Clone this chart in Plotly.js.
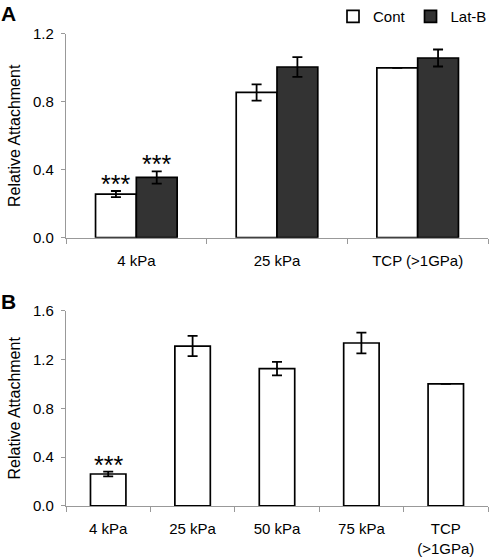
<!DOCTYPE html>
<html>
<head>
<meta charset="utf-8">
<script src="https://cdn.plot.ly/plotly-3.0.1.min.js"></script>
<style>html,body{margin:0;padding:0;background:#fff;}#chart{width:492px;height:560px;}</style>
</head>
<body>
<div id="chart"></div>
<script>
// Panel A data
const catsA = ["4 kPa", "25 kPa", "TCP (>1GPa)"];
const contA = [0.257, 0.855, 1.0];
const contErrA = [0.018, 0.048, null];
const latA = [0.355, 1.005, 1.058];
const latErrA = [0.036, 0.058, 0.05];
const sigContA = ["***", "", ""];
const sigLatA = ["***", "", ""];

// Panel B data
const catsB = ["4 kPa", "25 kPa", "50 kPa", "75 kPa", "TCP<br>(>1GPa)"];
const valsB = [0.262, 1.31, 1.125, 1.335, 1.0];
const errB = [0.02, 0.083, 0.055, 0.085, null];
const sigB = ["***", "", "", "", ""];

const FONT = "Liberation Sans, Arial, sans-serif";
const errStyle = {type: "data", visible: true, color: "#000", thickness: 1.8, width: 5};

const traces = [
  {type: "bar", name: "Cont", x: catsA, y: contA, xaxis: "x", yaxis: "y",
   marker: {color: "#ffffff", line: {color: "#000", width: 1.7}},
   error_y: Object.assign({array: contErrA}, errStyle), hoverinfo: "none"},
  {type: "bar", name: "Lat-B", x: catsA, y: latA, xaxis: "x", yaxis: "y",
   marker: {color: "#333333", line: {color: "#000", width: 1.7}},
   error_y: Object.assign({array: latErrA}, errStyle), hoverinfo: "none"},
  {type: "bar", name: "B", x: catsB, y: valsB, xaxis: "x2", yaxis: "y2", showlegend: false,
   marker: {color: "#ffffff", line: {color: "#000", width: 1.7}},
   error_y: Object.assign({array: errB}, errStyle), width: 0.42, hoverinfo: "none"}
];

const gapA = 0.42;
const halfW = (1 - gapA) / 4;
const starFont = {family: FONT, size: 25, color: "#000"};
const annotations = [];
sigContA.forEach((s, i) => { if (s) annotations.push({x: i - halfW, y: contA[i] + (contErrA[i] || 0), xref: "x", yref: "y", text: s, showarrow: false, yanchor: "bottom", yshift: -9, font: starFont}); });
sigLatA.forEach((s, i) => { if (s) annotations.push({x: i + halfW, y: latA[i] + (latErrA[i] || 0), xref: "x", yref: "y", text: s, showarrow: false, yanchor: "bottom", yshift: -9, font: starFont}); });
sigB.forEach((s, i) => { if (s) annotations.push({x: i, y: valsB[i] + (errB[i] || 0), xref: "x2", yref: "y2", text: s, showarrow: false, yanchor: "bottom", yshift: -9, font: starFont}); });
annotations.push({x: 0, y: 1, xref: "paper", yref: "paper", xanchor: "left", yanchor: "top", text: "<b>A</b>", showarrow: false, font: {family: FONT, size: 21, color: "#000"}, xshift: -67, yshift: 3});
annotations.push({x: 0, y: 0.5, xref: "paper", yref: "paper", xanchor: "left", yanchor: "bottom", text: "<b>B</b>", showarrow: false, font: {family: FONT, size: 21, color: "#000"}, xshift: -67, yshift: -33});

const axisY = {
  showgrid: false, zeroline: false, showline: true, linecolor: "#999", linewidth: 1.2,
  ticks: "outside", ticklen: 4, tickcolor: "#999", tickformat: ".1f", ticklabelstandoff: 4,
  tickfont: {family: FONT, size: 15, color: "#000"},
  title: {text: "Relative Attachment", font: {family: FONT, size: 16, color: "#000"}, standoff: 8}
};
const axisX = {
  type: "category", showgrid: false, zeroline: false, showline: true, linecolor: "#999", linewidth: 1.2,
  ticks: "outside", ticklen: 5, tickcolor: "#999", tickson: "boundaries", ticklabelstandoff: 9,
  tickfont: {family: FONT, size: 15, color: "#000"}
};

const layout = {
  width: 492, height: 560,
  margin: {l: 66, r: 0, t: 0, b: 0},
  paper_bgcolor: "#fff", plot_bgcolor: "#fff",
  barmode: "group", bargap: gapA, bargroupgap: 0,
  showlegend: true,
  legend: {orientation: "h", x: 1.01, xanchor: "right", y: 1.005, yanchor: "top", yref: "paper",
           font: {family: FONT, size: 15, color: "#000"}, bgcolor: "rgba(0,0,0,0)", itemwidth: 30, traceorder: "normal"},
  xaxis: Object.assign({}, axisX, {domain: [0, 1], anchor: "y"}),
  yaxis: Object.assign({}, axisY, {domain: [0.5786, 0.9446], range: [0, 1.2], dtick: 0.4, anchor: "x"}),
  xaxis2: Object.assign({}, axisX, {domain: [0, 1], anchor: "y2"}),
  yaxis2: Object.assign({}, axisY, {domain: [0.097, 0.4477], range: [0, 1.6], dtick: 0.4, anchor: "x2"}),
  annotations: annotations
};

Plotly.newPlot("chart", traces, layout, {displayModeBar: false, staticPlot: true});
</script>
</body>
</html>
